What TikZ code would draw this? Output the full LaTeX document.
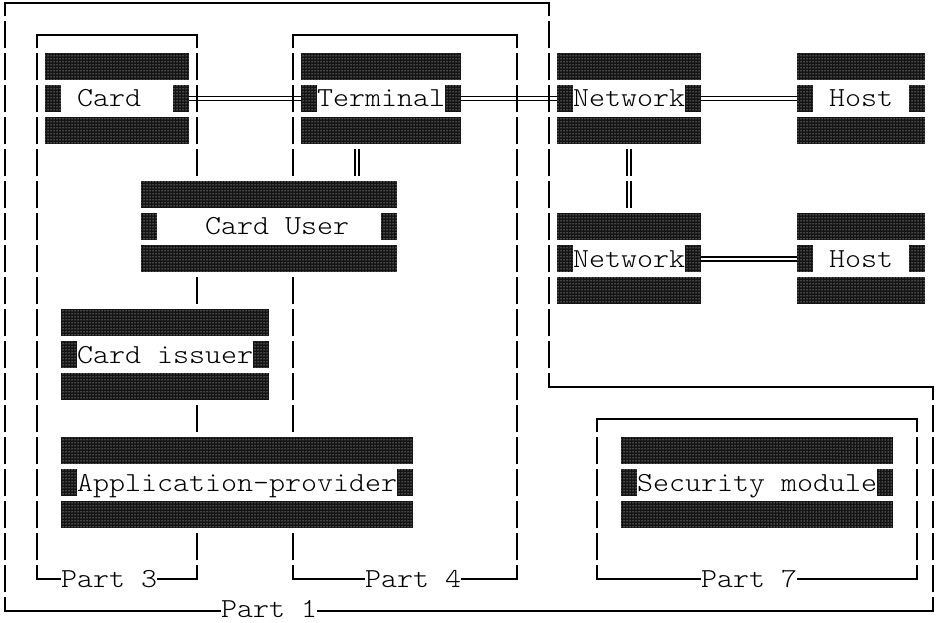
\documentclass[tikz,border=0pt]{standalone}
\usepackage{fontspec}
\usetikzlibrary{patterns}
\newfontfamily\monofnt{lmmonolt10-regular.otf}[FakeStretch=1.108]

\pgfdeclarelayer{conns}
\pgfdeclarelayer{frames}
\pgfsetlayers{conns,frames,main}

% grid: one character cell is 16 wide, one text line is 32 high
\tikzset{
  rim/.style={line width=1.4pt, line cap=butt},
  vrun/.style={rim, dash pattern=on 27pt off 5pt},
  blockbox/.style={draw=none, fill=white, inner sep=0pt, minimum height=91pt, anchor=north west},
  mottled/.style={fill=black!92, postaction={pattern=dots, pattern color=white}},
  txt/.style={font=\monofnt\fontsize{27.5}{32}\selectfont, inner sep=0pt, anchor=base west},
  hconn/.style={line width=1.6pt, double distance=2.4pt},
  vconn/.style={hconn, shorten <=5pt, shorten >=5pt, dash pattern=on 27pt off 5pt},
}

% #1 name, #2 first column, #3 last column, #4 top line, #5 text column, #6 text
\newcommand\entity[6]{%
  \pgfmathsetmacro\xa{16*#2-3}%
  \pgfmathsetmacro\xb{16*#3+13}%
  \pgfmathsetmacro\ya{32*#4-11}%
  \pgfmathsetmacro\wdt{\xb-\xa}%
  \node[blockbox, minimum width=\wdt pt] (#1) at (\xa,\ya) {};
  \fill[mottled] (\xa,\ya) rectangle (\xb,\ya+27);
  \fill[mottled] (\xa,\ya+32) rectangle (\xa+16,\ya+59);
  \fill[mottled] (\xb-16,\ya+32) rectangle (\xb,\ya+59);
  \fill[mottled] (\xa,\ya+64) rectangle (\xb,\ya+91);
  \node[txt] (#1-t) at ({16*#5-3},{32*#4+43}) {#6};
}

\begin{document}
\begin{tikzpicture}[x=1pt, y=-1pt]
\useasboundingbox (0,0) rectangle (938,623);

% the parties
\entity{card}{3}{11}{2}{5}{Card}
\entity{term}{19}{28}{2}{20}{Terminal}
\entity{netA}{35}{43}{2}{36}{Network}
\entity{hostA}{50}{57}{2}{52}{Host}
\entity{user}{9}{24}{6}{13}{Card User}
\entity{netB}{35}{43}{7}{36}{Network}
\entity{hostB}{50}{57}{7}{52}{Host}
\entity{issuer}{4}{16}{10}{5}{Card issuer}
\entity{app}{4}{25}{14}{5}{Application-provider}
\entity{sec}{39}{55}{14}{40}{Security module}

% links between parties
\begin{pgfonlayer}{conns}
\draw[hconn] (card.east) -- (term.west);
\draw[hconn] (term.east) -- (netA.west);
\draw[hconn] (netA.east) -- (hostA.west);
\draw[hconn] (netB.east) -- (hostB.west);
\draw[vconn] ([xshift=-24pt]term.south) -- ([xshift=-24pt]term.south |- user.north);
\draw[vconn] (netA.south) -- (netB.north);
\end{pgfonlayer}

% scope frames of the standard parts
\begin{pgfonlayer}{frames}
% Part 1
\draw[rim] (5,16) -- (5,3) -- (549,3) -- (549,16);
\draw[vrun] (5,21) -- (5,592);
\draw[rim] (5,597) -- (5,611) -- (221,611);
\node[txt] (p1) at (221,617) {Part 1};
\draw[rim] (317,611) -- (933,611) -- (933,597);
\draw[vrun] (549,21) -- (549,368);
\draw[rim] (549,373) -- (549,387) -- (933,387) -- (933,400);
\draw[vrun] (933,405) -- (933,592);
% Part 3
\draw[rim] (37,48) -- (37,35) -- (197,35) -- (197,48);
\draw[vrun] (37,53) -- (37,560);
\draw[vrun] (197,53) -- (197,560);
\draw[rim] (37,565) -- (37,579) -- (61,579);
\node[txt] (p3) at (61,587) {Part 3};
\draw[rim] (157,579) -- (197,579) -- (197,565);
% Part 4
\draw[rim] (293,48) -- (293,35) -- (517,35) -- (517,48);
\draw[vrun] (293,53) -- (293,560);
\draw[vrun] (517,53) -- (517,560);
\draw[rim] (293,565) -- (293,579) -- (365,579);
\node[txt] (p4) at (365,587) {Part 4};
\draw[rim] (461,579) -- (517,579) -- (517,565);
% Part 7
\draw[rim] (597,432) -- (597,419) -- (917,419) -- (917,432);
\draw[vrun] (597,437) -- (597,560);
\draw[vrun] (917,437) -- (917,560);
\draw[rim] (597,565) -- (597,579) -- (701,579);
\node[txt] (p7) at (701,587) {Part 7};
\draw[rim] (797,579) -- (917,579) -- (917,565);
\end{pgfonlayer}
\end{tikzpicture}
\end{document}
